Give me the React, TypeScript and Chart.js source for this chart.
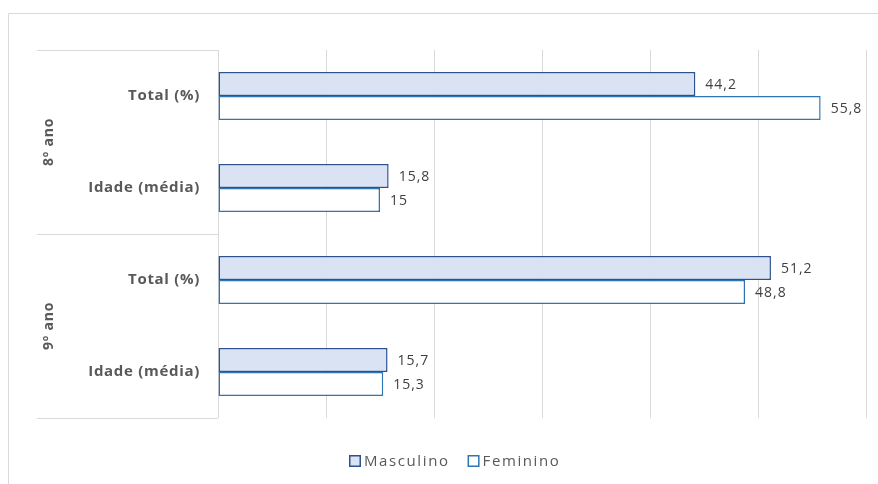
import React, { useEffect, useRef } from "react";
import { Chart, registerables } from "chart.js";

Chart.register(...registerables);

const groups = ["8º ano", "9º ano"];
const categories = ["Total (%)", "Idade (média)", "Total (%)", "Idade (média)"];
const masculino = [44.2, 15.8, 51.2, 15.7];
const feminino = [55.8, 15, 48.8, 15.3];
const xTicksStep = 10;
const xMax = 60;

const FONT = "'Open Sans', Lato, sans-serif";

function setSpacing(ctx: any, v: string) {
  try {
    ctx.letterSpacing = v;
  } catch (e) {}
}

const decorPlugin = {
  id: "decor",
  beforeDraw(chart: any) {
    const ctx = chart.ctx;
    const ca = chart.chartArea;
    ctx.save();
    ctx.strokeStyle = "#D9D9D9";
    ctx.lineWidth = 1;
    // outer frame
    ctx.beginPath();
    ctx.moveTo(8.5, chart.height);
    ctx.lineTo(8.5, 13.5);
    ctx.lineTo(chart.width, 13.5);
    ctx.stroke();
    // group box lines
    const n = groups.length;
    const step = (ca.bottom - ca.top) / n;
    for (let i = 0; i <= n; i++) {
      const y = Math.round(ca.top + i * step) + 0.5;
      ctx.beginPath();
      ctx.moveTo(37, y);
      ctx.lineTo(ca.left, y);
      ctx.stroke();
    }
    ctx.restore();
  },
  afterDraw(chart: any) {
    const ctx = chart.ctx;
    const ca = chart.chartArea;
    const yScale = chart.scales.y;
    ctx.save();
    // category labels
    ctx.font = `bold 15px ${FONT}`;
    setSpacing(ctx, "0.7px");
    ctx.fillStyle = "#595959";
    ctx.textAlign = "right";
    ctx.textBaseline = "middle";
    categories.forEach((c, i) => {
      ctx.fillText(c, ca.left - 18, yScale.getPixelForValue(i));
    });
    // group labels
    ctx.font = `bold 14px ${FONT}`;
    setSpacing(ctx, "0.8px");
    const n = groups.length;
    const step = (ca.bottom - ca.top) / n;
    groups.forEach((g, i) => {
      ctx.save();
      ctx.translate(49, ca.top + step * (i + 0.5));
      ctx.rotate(-Math.PI / 2);
      ctx.textAlign = "center";
      ctx.fillText(g, 0, 0);
      ctx.restore();
    });
    // data labels
    ctx.font = `14px ${FONT}`;
    setSpacing(ctx, "1px");
    ctx.fillStyle = "#404040";
    ctx.textAlign = "left";
    chart.data.datasets.forEach((ds: any, di: number) => {
      const meta = chart.getDatasetMeta(di);
      meta.data.forEach((bar: any, i: number) => {
        const v = ds.data[i];
        ctx.fillText(String(v).replace(".", ","), bar.x + 10, bar.y + 1);
      });
    });
    // legend
    ctx.font = `15px ${FONT}`;
    setSpacing(ctx, "1.6px");
    ctx.fillStyle = "#595959";
    const items = chart.data.datasets.map((ds: any) => ({
      label: ds.label,
      fill: ds.backgroundColor,
      stroke: ds.borderColor,
      w: ctx.measureText(ds.label).width,
    }));
    const box = 12;
    const gapBox = 3;
    const gapItem = 18;
    const total = items.reduce((s: number, it: any) => s + box + gapBox + it.w, 0) + gapItem * (items.length - 1);
    let x = Math.round(455 - total / 2);
    const ly = 461;
    items.forEach((it: any) => {
      ctx.fillStyle = it.fill;
      ctx.fillRect(x, ly - box / 2, box, box);
      ctx.strokeStyle = it.stroke;
      ctx.lineWidth = 1.5;
      ctx.strokeRect(x + 0.75, ly - box / 2 + 0.75, box - 1.5, box - 1.5);
      ctx.fillStyle = "#595959";
      ctx.fillText(it.label, x + box + gapBox, ly + 1);
      x += box + gapBox + it.w + gapItem;
    });
    ctx.restore();
  },
};

export default function App() {
  const ref = useRef<HTMLCanvasElement | null>(null);
  useEffect(() => {
    if (!ref.current) return;
    const chart = new Chart(ref.current, {
      type: "bar",
      data: {
        labels: categories,
        datasets: [
          {
            label: "Masculino",
            data: masculino,
            backgroundColor: "#DAE3F3",
            borderColor: "#2F528F",
            borderWidth: 1.5,
            borderSkipped: false,
            categoryPercentage: 0.52,
            barPercentage: 1,
          },
          {
            label: "Feminino",
            data: feminino,
            backgroundColor: "#FFFFFF",
            borderColor: "#2E75B6",
            borderWidth: 1.5,
            borderSkipped: false,
            categoryPercentage: 0.52,
            barPercentage: 1,
          },
        ],
      },
      options: {
        indexAxis: "y",
        animation: false,
        responsive: true,
        maintainAspectRatio: false,
        layout: { padding: { left: 0, top: 50, right: 12, bottom: 66 } },
        plugins: { legend: { display: false }, tooltip: { enabled: false } },
        scales: {
          y: {
            ticks: { display: false },
            grid: { display: false },
            border: { display: false },
            afterFit(s: any) {
              s.width = 218;
            },
          },
          x: {
            min: 0,
            max: xMax,
            ticks: { display: false, stepSize: xTicksStep },
            grid: { color: "#D9D9D9", drawTicks: false },
            border: { display: false },
            afterFit(s: any) {
              s.height = 0;
            },
          },
        },
      },
      plugins: [decorPlugin],
    } as any);
    return () => chart.destroy();
  }, []);
  return (
    <div style={{ position: "absolute", left: 0, top: 0, width: 878, height: 484, background: "#fff" }}>
      <canvas ref={ref} />
    </div>
  );
}
